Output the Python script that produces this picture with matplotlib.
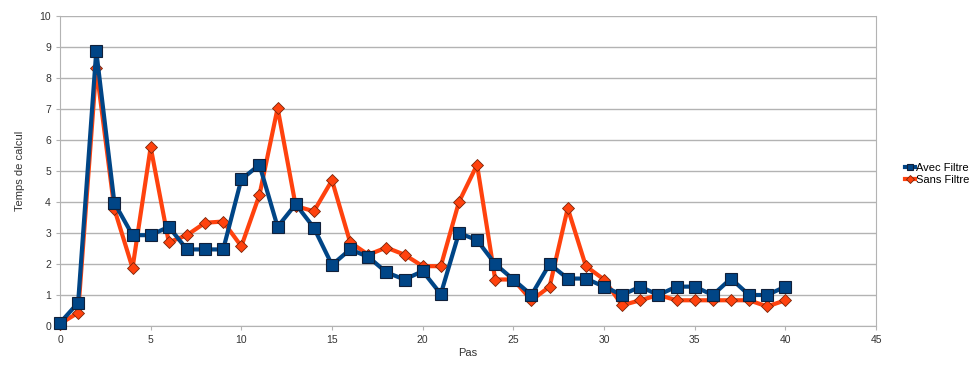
import matplotlib
matplotlib.use("Agg")
import matplotlib.pyplot as plt

# temps de calcul par pas, avec et sans filtre
pas = list(range(0, 41))
avec_filtre = [0.1, 0.75, 8.87, 3.97, 2.93, 2.93, 3.2, 2.47, 2.47, 2.47,
               4.73, 5.2, 3.2, 3.93, 3.17, 1.97, 2.47, 2.23, 1.73, 1.5,
               1.77, 1.03, 3.0, 2.77, 2.0, 1.5, 1.0, 2.0, 1.53, 1.53,
               1.27, 1.0, 1.27, 1.0, 1.27, 1.27, 1.0, 1.53, 1.0, 1.0, 1.27]
sans_filtre = [0.07, 0.43, 8.33, 3.77, 1.87, 5.77, 2.7, 2.93, 3.33, 3.37,
               2.57, 4.23, 7.03, 3.87, 3.7, 4.7, 2.7, 2.3, 2.53, 2.3,
               1.93, 1.93, 4.0, 5.2, 1.5, 1.5, 0.83, 1.27, 3.8, 1.93,
               1.5, 0.67, 0.83, 1.0, 0.83, 0.83, 0.83, 0.83, 0.83, 0.63, 0.83]

bleu = "#004586"
orange = "#ff420e"
gris = "#b3b3b3"

plt.rcParams["font.family"] = "Liberation Sans"
fig = plt.figure(figsize=(9.72, 3.65), dpi=100)
ax = fig.add_axes([60 / 972, 39 / 365, 816 / 972, 310 / 365])

ax.plot(pas, avec_filtre, color=bleu, lw=3, marker="s", ms=8,
        mfc=bleu, mec="#10203a", mew=0.8, label="Avec Filtre", zorder=3,
        clip_on=False)
ax.plot(pas, sans_filtre, color=orange, lw=3, marker="D", ms=6.5,
        mfc=orange, mec="#7a2408", mew=0.6, label="Sans Filtre", zorder=2,
        clip_on=False)

ax.set_xlim(0, 45)
ax.set_ylim(0, 10)
ax.set_xticks(range(0, 46, 5))
ax.set_yticks(range(0, 11))
ax.yaxis.grid(True, color=gris, lw=1)
ax.set_axisbelow(True)
for s in ax.spines.values():
    s.set_color(gris)
ax.spines["top"].set_visible(False)
ax.tick_params(colors=gris, labelcolor="#333333", labelsize=7.5, length=3)
ax.set_xlabel("Pas", fontsize=8, color="#333333", labelpad=2)
ax.set_ylabel("Temps de calcul", fontsize=8, color="#333333", labelpad=10)

leg = ax.legend(loc="center left", bbox_to_anchor=(1.035, 0.49), frameon=False,
                fontsize=8, handlelength=0.9, handletextpad=0.1,
                labelspacing=0.2, borderaxespad=0, borderpad=0,
                markerscale=0.6)

fig.savefig("out.png", dpi=100)
